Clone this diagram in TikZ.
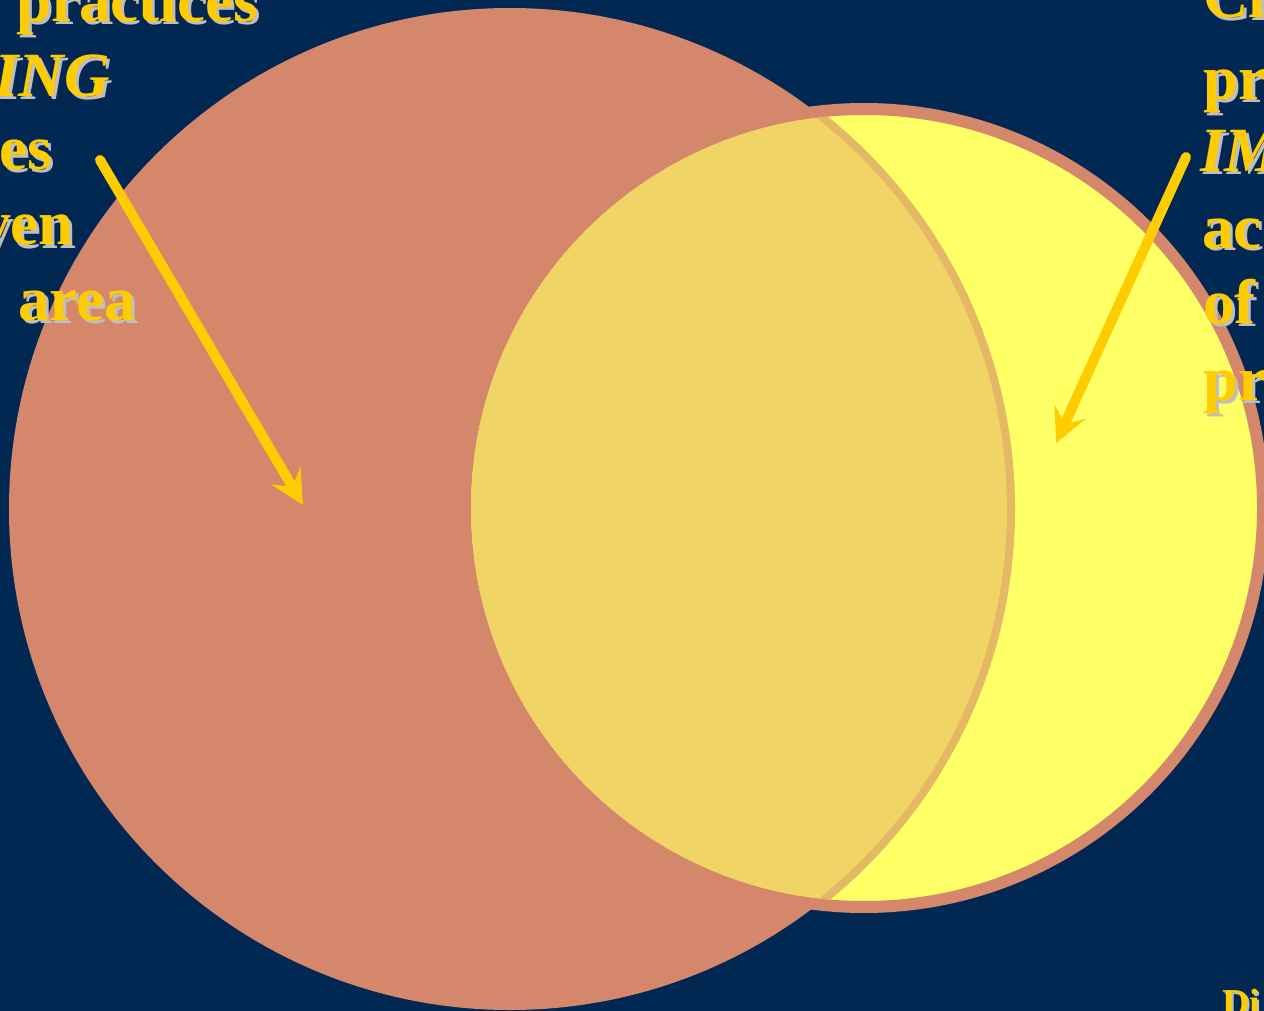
\documentclass[tikz,border=0pt]{standalone}
\usepackage{fontspec}
\setmainfont{Liberation Serif}
\usepackage{tikz}
\usetikzlibrary{arrows.meta,calc}
\usepackage{xcolor}
\definecolor{nightblue}{RGB}{0,40,82}
\definecolor{salmon}{RGB}{212,135,107}
\definecolor{lemon}{RGB}{255,255,102}
\definecolor{lenstan}{RGB}{240,212,102}
\definecolor{rimtan}{RGB}{228,184,100}
\definecolor{goldtext}{RGB}{255,204,0}
\definecolor{shadowgray}{RGB}{190,190,190}
\tikzset{
  bigdisc/.style={fill=salmon},
  smalldisc/.style={fill=lemon,draw=salmon,line width=12pt},
  lensfill/.style={fill=lenstan},
  lensrim/.style={draw=rimtan,line width=8pt},
  pointer/.style={-{Stealth[length=34pt,width=34pt,inset=13pt]},line width=10pt,draw=goldtext,line cap=round},
  lbl/.style={font=\fontsize{63}{70}\selectfont\bfseries,text=goldtext,inner sep=0pt},
  lblshadow/.style={lbl,text=shadowgray},
  smalllbl/.style={lbl,font=\fontsize{38}{44}\selectfont\bfseries}
}

\begin{document}
\begin{tikzpicture}[x=1pt,y=-1pt]
  \useasboundingbox (0,0) rectangle (1264,1011);
  \fill[nightblue] (0,0) rectangle (1264,1011);

  % the two circles
  \coordinate (bigc) at (510,509);
  \coordinate (smallc) at (864,508);
  \path[bigdisc] (bigc) circle (501);
  \path[smalldisc] (smallc) circle (399);
  \begin{scope}
    \clip (smallc) circle (393);
    \path[lensfill] (bigc) circle (501);
    \path[lensrim] (bigc) circle (501);
  \end{scope}

  % pointers
  \coordinate (lfrom) at (100,160);
  \coordinate (lto) at (303,505);
  \coordinate (rfrom) at (1186,157);
  \coordinate (rto) at (1056,443);
  \draw[pointer] (lfrom) -- (lto);
  \draw[pointer] (rfrom) -- (rto);

  % labels with drop shadow
  \foreach \nm/\anc/\px/\py/\txt in {
      lpract/base east/258/22/practices,
      ling/base east/110/97/{\itshape ING},
      les/base east/52/170/es,
      lven/base east/74/245/ven,
      larea/base east/136/320/area,
      rcl/base west/1203/18/Cl,
      rpr/base west/1203/100/pr,
      rim/base west/1200/172/{\itshape IM},
      rac/base west/1202/248/ac,
      rof/base west/1203/323/of,
      rpr2/base west/1203/400/pr}{
    \node[lblshadow,anchor=\anc] (\nm-sh) at (\px+3,\py+3) {\txt};
    \node[lbl,anchor=\anc] (\nm) at (\px,\py) {\txt};
  }
  \node[smalllbl,text=shadowgray,anchor=base west] (rdi-sh) at (1224,1017) {Di};
  \node[smalllbl,anchor=base west] (rdi) at (1222,1015) {Di};
\end{tikzpicture}
\end{document}
